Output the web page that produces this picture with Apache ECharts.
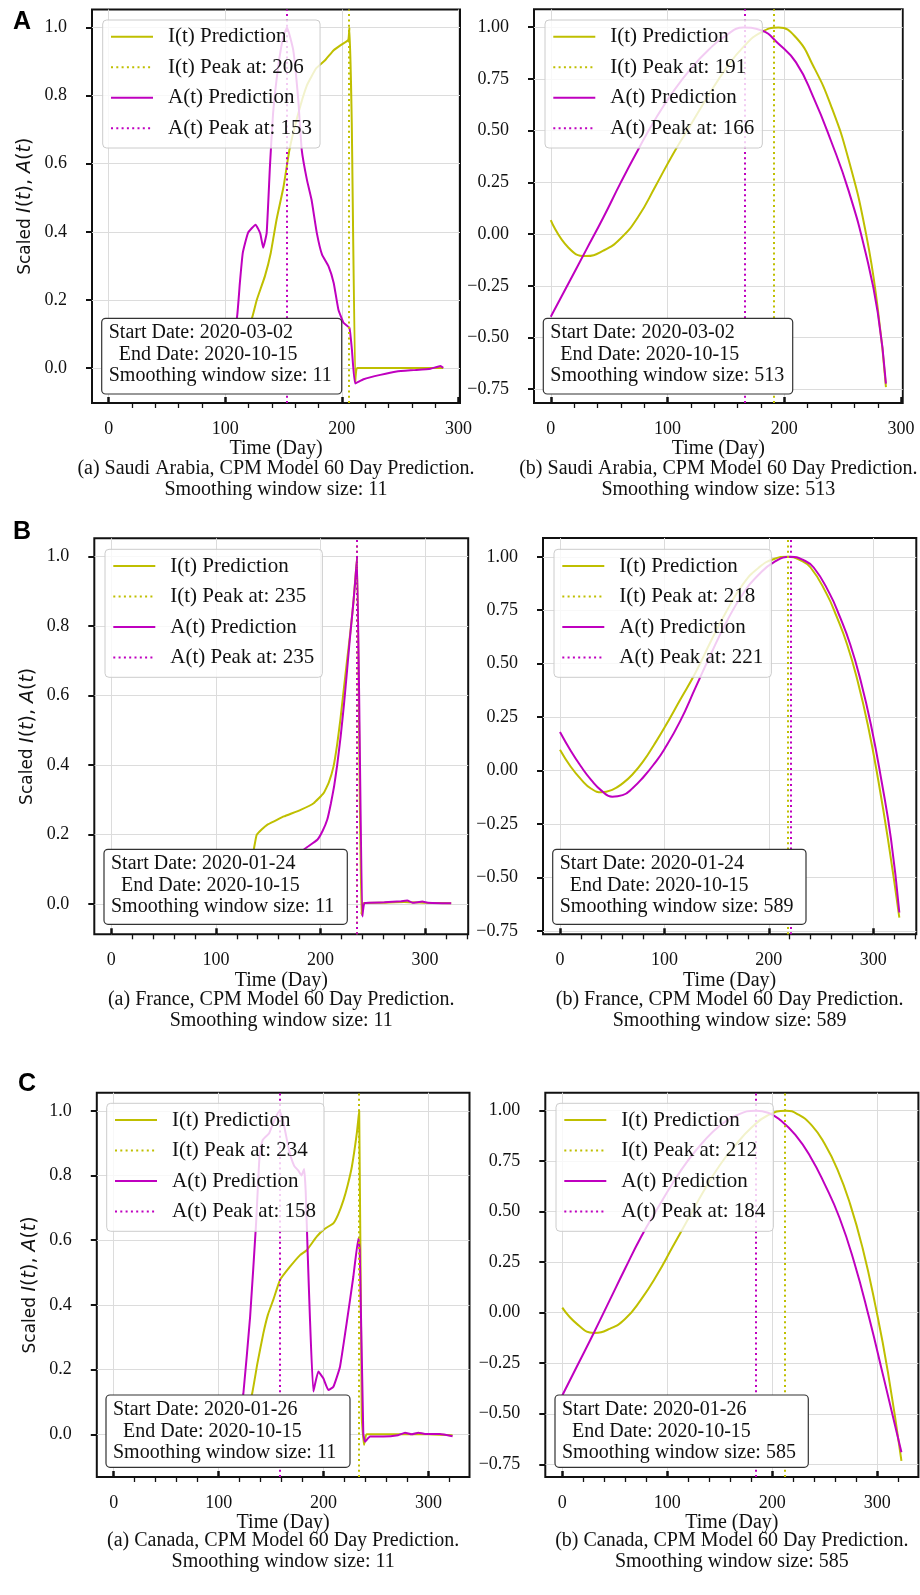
<!DOCTYPE html>
<html>
<head>
<meta charset="utf-8">
<title>CPM Model 60 Day Prediction</title>
<script src="https://cdn.jsdelivr.net/npm/echarts@6.0.0/dist/echarts.min.js"></script>
<style>
  html, body { margin: 0; padding: 0; background: #fff; }
  #chart { width: 920px; height: 1595px; }
</style>
</head>
<body>
<div id="chart"></div>
<script>
// ticks
const xMajorTicks = [0, 100, 200, 300];
const xMinorTicks = [20, 40, 60, 80, 120, 140, 160, 180, 220, 240, 260, 280, 320, 340];
const yTicksScaled = [0, 0.2, 0.4, 0.6, 0.8, 1.0];
const yTicksWide = [-0.75, -0.5, -0.25, 0, 0.25, 0.5, 0.75, 1.0];

// Saudi Arabia, window 11  [day, scaled value]
const saudiI11 = [[0,0.0],[20,0.0],[40,0.01],[60,0.02],[80,0.03],[100,0.05],[110,0.08],[118,0.11],[123,0.148],[127,0.2],[134,0.27],[139,0.338],[144,0.436],[150,0.533],[155,0.64],[162,0.74],[170,0.83],[178,0.88],[186,0.905],[193,0.933],[200,0.95],[205.5,0.963],[206.5,1.0],[208.5,0.72],[211.5,-0.04],[213,0.0],[230,0.0],[250,0.0],[270,0.0],[287,0.0]];
const saudiA11 = [[0,0.0],[20,0.01],[40,0.02],[60,0.02],[80,0.03],[95,0.05],[104,0.08],[110,0.148],[112.5,0.25],[115,0.338],[119.5,0.397],[126,0.421],[130,0.395],[132.5,0.353],[135.5,0.397],[138.3,0.592],[141,0.748],[145.4,0.885],[149.7,0.972],[153,1.0],[158.3,0.933],[162.6,0.787],[165.6,0.64],[170,0.553],[174,0.494],[178.5,0.397],[183,0.333],[188.5,0.299],[193,0.25],[197,0.172],[201.4,0.133],[206.5,0.118],[208.6,0.055],[211.4,-0.045],[218.6,-0.033],[233,-0.02],[247,-0.01],[261.6,-0.006],[276,-0.002],[284.6,0.006],[287,0.001]];
// Saudi Arabia, window 513
const saudiI513 = [[0,0.068],[15,-0.065],[30,-0.106],[45,-0.08],[60,-0.02],[75,0.085],[90,0.235],[105,0.39],[120,0.53],[135,0.67],[150,0.8],[165,0.905],[180,0.975],[195,0.998],[210,0.95],[225,0.81],[240,0.62],[255,0.36],[270,0.0],[280,-0.36],[287,-0.74]];
const saudiA513 = [[0,-0.4],[15,-0.24],[30,-0.08],[45,0.08],[60,0.25],[75,0.41],[90,0.56],[105,0.69],[120,0.8],[135,0.89],[150,0.96],[165,0.998],[180,0.985],[195,0.92],[210,0.83],[225,0.66],[240,0.45],[255,0.21],[270,-0.1],[280,-0.38],[287,-0.723]];

// France, window 11
const franceI11 = [[0,0.0],[30,0.0],[60,0.01],[90,0.02],[110,0.03],[125,0.05],[132,0.09],[136.5,0.161],[139,0.199],[144,0.215],[149,0.228],[157,0.24],[165,0.252],[181,0.271],[193.5,0.29],[203,0.319],[208,0.35],[212.5,0.396],[216,0.46],[219,0.53],[222,0.61],[225.5,0.703],[228.5,0.78],[231.5,0.866],[235,1.0],[239,-0.03],[241.5,0.003],[260,0.004],[280,0.006],[300,0.004],[325,0.002]];
const franceA11 = [[0,0.0],[40,0.0],[80,0.01],[120,0.03],[150,0.08],[170,0.12],[185.5,0.16],[197,0.185],[202,0.21],[206.5,0.243],[210,0.29],[213,0.338],[216,0.4],[219.3,0.482],[222.5,0.575],[225.5,0.674],[228,0.76],[230.5,0.837],[233,0.92],[235,1.0],[240,-0.036],[242.3,0.003],[261,0.005],[277,0.008],[283,0.01],[288,0.004],[297.5,0.007],[302.5,0.004],[325,0.002]];
// France, window 589
const franceI589 = [[0,0.097],[10,0.02],[20,-0.04],[30,-0.085],[40,-0.102],[50,-0.09],[60,-0.06],[70,-0.015],[80,0.045],[90,0.12],[100,0.2],[115,0.33],[130,0.46],[145,0.61],[160,0.75],[175,0.87],[190,0.948],[205,0.99],[218,1.0],[230,0.985],[240,0.95],[255,0.83],[265,0.72],[275,0.59],[285,0.42],[295,0.21],[305,-0.05],[315,-0.35],[325,-0.688]];
const franceA589 = [[0,0.18],[10,0.095],[20,0.02],[30,-0.045],[40,-0.095],[50,-0.122],[60,-0.115],[70,-0.08],[80,-0.03],[90,0.03],[100,0.1],[115,0.23],[130,0.39],[145,0.55],[160,0.7],[175,0.825],[190,0.915],[205,0.975],[221,1.0],[233,0.985],[243,0.95],[258,0.83],[268,0.72],[278,0.59],[288,0.42],[298,0.21],[308,-0.05],[317,-0.32],[325,-0.664]];

// Canada, window 11
const canadaI11 = [[0,0.0],[30,0.0],[60,0.01],[90,0.02],[110,0.03],[122,0.04],[127,0.07],[132,0.127],[137,0.22],[142.6,0.312],[147,0.37],[152,0.415],[158.5,0.477],[168,0.518],[177.6,0.554],[184,0.569],[193.5,0.611],[201,0.635],[209.3,0.652],[214,0.68],[219,0.724],[223,0.77],[227,0.827],[231.7,0.93],[234,1.0],[236.4,0.054],[238.6,-0.033],[241,0.0],[270,0.0],[300,0.0],[323,-0.003]];
const canadaA11 = [[0,0.0],[40,0.0],[80,0.01],[110,0.02],[120,0.05],[123.6,0.127],[130,0.363],[135.7,0.652],[139,0.86],[142,0.91],[148,0.93],[153,0.97],[158,1.0],[162,0.96],[167,0.88],[172,0.83],[176,0.815],[179,0.8],[181.5,0.82],[183,0.75],[185,0.55],[187,0.363],[190.3,0.132],[195,0.194],[199.8,0.173],[204.6,0.137],[209.4,0.147],[215.7,0.209],[222,0.343],[228.4,0.487],[233.2,0.606],[234.5,0.57],[237.9,0.003],[239.5,-0.023],[244.3,-0.007],[257,-0.007],[271,-0.003],[277.7,0.005],[284,0.0],[290.4,0.005],[296.7,0.001],[311,0.001],[323,-0.006]];
// Canada, window 585
const canadaI585 = [[0,0.025],[15,-0.06],[30,-0.1],[45,-0.08],[60,-0.03],[75,0.065],[90,0.185],[105,0.325],[120,0.465],[135,0.605],[150,0.73],[165,0.83],[180,0.915],[195,0.975],[213,1.0],[225,0.98],[238,0.925],[250,0.835],[262,0.71],[274,0.54],[286,0.32],[298,0.04],[310,-0.29],[323,-0.733]];
const canadaA585 = [[0,-0.41],[15,-0.255],[30,-0.1],[45,0.06],[60,0.22],[75,0.375],[90,0.51],[105,0.64],[120,0.755],[135,0.85],[150,0.925],[165,0.975],[184.5,1.0],[196,0.99],[208,0.952],[222,0.88],[236,0.775],[250,0.635],[264,0.47],[278,0.25],[292,-0.02],[306,-0.32],[323,-0.69]];

// per-panel labels
const countries = ['Saudi Arabia', 'Saudi Arabia', 'France', 'France', 'Canada', 'Canada'];
const subLetters = ['(a)', '(b)', '(a)', '(b)', '(a)', '(b)'];
const windowSizes = [11, 513, 11, 589, 11, 585];
const startDates = ['2020-03-02', '2020-03-02', '2020-01-24', '2020-01-24', '2020-01-26', '2020-01-26'];
const endDate = '2020-10-15';
const peakI = [206, 191, 235, 218, 234, 212];
const peakA = [153, 166, 235, 221, 158, 184];
const seriesI = [saudiI11, saudiI513, franceI11, franceI589, canadaI11, canadaI585];
const seriesA = [saudiA11, saudiA513, franceA11, franceA589, canadaA11, canadaA585];
const rowLetters = ['A', 'B', 'C'];

const OLIVE = '#bfbf00';
const MAGENTA = '#bf00bf';
const SERIF = '"Liberation Serif", serif';
const INK = '#111';

// layout: [left, top, width, height], axis extents, legend & info box placement
const layout = [
  {g: [92, 9.5, 368, 393.5],     x: [-14.35, 301.35], y: [-0.1025, 1.0525], wide: false, leg: [102.7, 20],    box: [101.7, 318.3, 240, 75.7]},
  {g: [534, 9.3, 368.7, 393.7],  x: [-14.35, 301.35], y: [-0.8165, 1.0865], wide: true,  leg: [545, 20],      box: [543.3, 318.3, 249.4, 75.7]},
  {g: [94.3, 538.3, 373.9, 396], x: [-16.25, 341.25], y: [-0.087, 1.052],   wide: false, leg: [105, 549.3],   box: [104, 849.3, 243.3, 75]},
  {g: [543, 538, 373.3, 396.3],  x: [-16.25, 341.25], y: [-0.766, 1.088],   wide: true,  leg: [554, 549.3],   box: [552.7, 849.3, 253.3, 75]},
  {g: [96.8, 1092.7, 372.7, 384.3], x: [-16.15, 339.15], y: [-0.132, 1.056], wide: false, leg: [106.7, 1103.3], box: [106, 1395, 244, 72.3]},
  {g: [545.3, 1092.7, 373.1, 384.3], x: [-16.15, 339.15], y: [-0.813, 1.089], wide: true, leg: [556, 1103.3], box: [555, 1395, 253.3, 72.3]}
];
const letterPos = [[22, 22], [22, 532], [27, 1084]];

const fmtY = (dec) => (v) => (v < 0 ? '\u2212' : '') + Math.abs(v).toFixed(dec);
const dotted = [2, 3.3];

const option = {
  animation: false,
  backgroundColor: '#fff',
  textStyle: {fontFamily: SERIF},
  grid: [], xAxis: [], yAxis: [], series: [], legend: [], graphic: []
};

layout.forEach((p, k) => {
  option.grid.push({
    left: p.g[0], top: p.g[1], width: p.g[2], height: p.g[3],
    show: true, borderColor: INK, borderWidth: 2, backgroundColor: 'transparent'
  });
  const xi = option.xAxis.length;
  option.xAxis.push({
    gridIndex: k, type: 'value', position: 'bottom', min: p.x[0], max: p.x[1],
    name: 'Time (Day)', nameLocation: 'middle', nameGap: 36,
    nameTextStyle: {fontFamily: SERIF, fontSize: 20, color: INK},
    axisLine: {show: false, onZero: false},
    axisTick: {customValues: xMajorTicks, inside: true, length: 6, lineStyle: {color: INK, width: 2.5}},
    axisLabel: {customValues: xMajorTicks, margin: 17, fontFamily: SERIF, fontSize: 18, color: INK},
    splitLine: {show: true, lineStyle: {color: '#dcdcdc', width: 1}}
  });
  option.xAxis.push({
    gridIndex: k, type: 'value', position: 'bottom', min: p.x[0], max: p.x[1],
    axisLine: {show: false, onZero: false},
    axisTick: {customValues: xMinorTicks.filter(v => v <= p.x[1]), length: 5, lineStyle: {color: INK, width: 1.3}},
    axisLabel: {show: false},
    splitLine: {show: false}
  });
  const yi = option.yAxis.length;
  const yTicks = p.wide ? yTicksWide : yTicksScaled;
  const yAxis = {
    gridIndex: k, type: 'value', position: 'left', min: p.y[0], max: p.y[1],
    axisLine: {show: false, onZero: false},
    axisTick: {customValues: yTicks, length: 6, lineStyle: {color: INK, width: 2}},
    axisLabel: {customValues: yTicks, margin: 25, fontFamily: SERIF, fontSize: 18, color: INK,
                formatter: fmtY(p.wide ? 2 : 1)},
    splitLine: {show: true, lineStyle: {color: '#dcdcdc', width: 1}}
  };
  if (!p.wide) {
    yAxis.name = '{s|Scaled }{m|I}{p|(}{m|t}{p|), }{m|A}{p|(}{m|t}{p|)}';
    yAxis.nameLocation = 'middle';
    yAxis.nameGap = 57;
    yAxis.nameTextStyle = {
      rich: {
        s: {fontFamily: '"DejaVu Sans"', fontSize: 17, color: INK},
        m: {fontFamily: '"DejaVu Sans"', fontStyle: 'italic', fontSize: 19, color: INK},
        p: {fontFamily: '"DejaVu Sans"', fontSize: 19, color: INK}
      }
    };
  }
  option.yAxis.push(yAxis);

  const nI = 'I(t) Peak at: ' + peakI[k];
  const nA = 'A(t) Peak at: ' + peakA[k];
  const lineSeries = (name, data, color) => ({
    name, type: 'line', xAxisIndex: xi, yAxisIndex: yi, data,
    symbol: 'none', showSymbol: false, smooth: p.wide ? 0.5 : 0.12,
    lineStyle: {color, width: 2}, itemStyle: {color}, z: 3, silent: true
  });
  const peakSeries = (name, peak, color) => ({
    name, type: 'line', xAxisIndex: xi, yAxisIndex: yi, data: [],
    symbol: 'none', lineStyle: {color, width: 2, type: dotted}, itemStyle: {color}, z: 3,
    markLine: {
      silent: true, symbol: ['none', 'none'], label: {show: false},
      lineStyle: {color, width: 2, type: dotted}, emphasis: {disabled: true},
      data: [{xAxis: peak}]
    }
  });
  option.series.push(lineSeries('I(t) Prediction', seriesI[k], OLIVE));
  option.series.push(peakSeries(nI, peakI[k], OLIVE));
  option.series.push(lineSeries('A(t) Prediction', seriesA[k], MAGENTA));
  option.series.push(peakSeries(nA, peakA[k], MAGENTA));

  option.legend.push({
    data: ['I(t) Prediction', nI, 'A(t) Prediction', nA],
    orient: 'vertical', left: p.leg[0], top: p.leg[1],
    itemWidth: 42, itemHeight: 14, itemGap: 8.5,
    padding: [5.7, 8, 8.8, 7.3],
    itemStyle: {color: 'transparent', borderColor: 'transparent', borderWidth: 0, opacity: 0},
    backgroundColor: 'rgba(255,255,255,0.8)', borderColor: '#cccccc', borderWidth: 1, borderRadius: 4,
    textStyle: {fontFamily: SERIF, fontSize: 21, color: INK, lineHeight: 22, padding: [0, 0, 0, 10]},
    selectedMode: false, z: 6
  });

  // info box
  const b = p.box;
  option.graphic.push({
    type: 'rect', z: 100,
    shape: {x: b[0], y: b[1], width: b[2], height: b[3], r: 4},
    style: {fill: '#fff', stroke: '#333', lineWidth: 1.2}
  });
  option.graphic.push({
    type: 'text', z: 101, x: b[0] + 7, y: b[1] + 4,
    style: {
      text: 'Start Date: ' + startDates[k] + '\n  End Date: ' + endDate + '\nSmoothing window size: ' + windowSizes[k],
      font: '20px ' + SERIF, fill: INK, lineHeight: 21.5, textAlign: 'left', textVerticalAlign: 'top'
    }
  });
  // caption
  const cy = [479.5, 1010, 1551.2][Math.floor(k / 2)];
  option.graphic.push({
    type: 'text', z: 101, x: p.g[0] + p.g[2] / 2, y: cy,
    style: {
      text: subLetters[k] + ' ' + countries[k] + ', CPM Model 60 Day Prediction.\nSmoothing window size: ' + windowSizes[k],
      font: '20px ' + SERIF, fill: INK, lineHeight: 21, textAlign: 'center', textVerticalAlign: 'middle'
    }
  });
});

rowLetters.forEach((t, r) => {
  option.graphic.push({
    type: 'text', z: 101, x: letterPos[r][0], y: letterPos[r][1],
    style: {text: t, font: 'bold 25px "Liberation Sans", Arial, sans-serif', fill: '#000',
            textAlign: 'center', textVerticalAlign: 'middle'}
  });
});

const chart = echarts.init(document.getElementById('chart'), null, {renderer: 'canvas'});
chart.setOption(option);
</script>
</body>
</html>
